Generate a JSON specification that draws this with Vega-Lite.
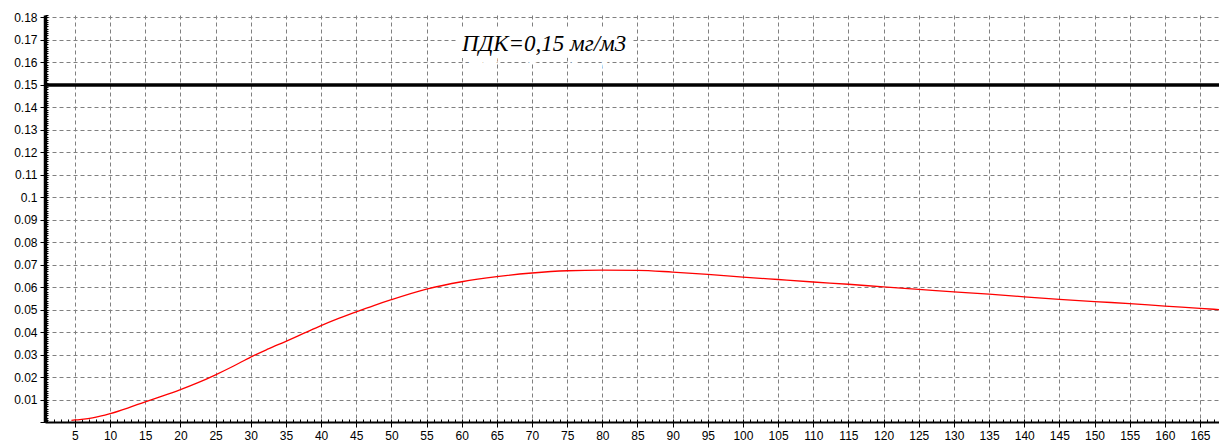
{
  "$schema": "https://vega.github.io/schema/vega-lite/v6.json",
  "width": 1174,
  "height": 407,
  "autosize": {"type": "none"},
  "padding": {"left": 45, "top": 15, "right": 0, "bottom": 24},
  "background": "white",
  "config": {"view": {"stroke": null}},
  "datasets": {
    "curve": [
      {"x": 4.5, "c": 0.0007}, {"x": 5, "c": 0.0009}, {"x": 7.5, "c": 0.0018},
      {"x": 10, "c": 0.0037}, {"x": 12.5, "c": 0.0062}, {"x": 15, "c": 0.009},
      {"x": 17.5, "c": 0.0116}, {"x": 20, "c": 0.0144}, {"x": 22.5, "c": 0.0175},
      {"x": 25, "c": 0.021}, {"x": 27.5, "c": 0.0248}, {"x": 30, "c": 0.0289},
      {"x": 32.5, "c": 0.0325}, {"x": 35, "c": 0.0359}, {"x": 37.5, "c": 0.0394},
      {"x": 40, "c": 0.0429}, {"x": 42.5, "c": 0.0461}, {"x": 45, "c": 0.049},
      {"x": 47.5, "c": 0.0518}, {"x": 50, "c": 0.0544}, {"x": 55, "c": 0.0591},
      {"x": 60, "c": 0.0624}, {"x": 65, "c": 0.0647}, {"x": 70, "c": 0.0663},
      {"x": 75, "c": 0.0673}, {"x": 80, "c": 0.0676}, {"x": 85, "c": 0.0675},
      {"x": 90, "c": 0.0667}, {"x": 95, "c": 0.0657}, {"x": 100, "c": 0.0645},
      {"x": 105, "c": 0.0634}, {"x": 110, "c": 0.0623}, {"x": 115, "c": 0.0613},
      {"x": 120, "c": 0.0601}, {"x": 125, "c": 0.059}, {"x": 130, "c": 0.0579},
      {"x": 135, "c": 0.0569}, {"x": 140, "c": 0.0557}, {"x": 145, "c": 0.0546},
      {"x": 150, "c": 0.0536}, {"x": 155, "c": 0.0527}, {"x": 160, "c": 0.0516},
      {"x": 165, "c": 0.0506}, {"x": 167.7, "c": 0.05}
    ],
    "limit": [{"pdk": 0.15, "label": "ПДК=0,15 мг/м3"}]
  },
  "resolve": {"axis": {"x": "independent", "y": "independent"}},
  "layer": [
    {
      "data": {"name": "curve"},
      "mark": {"type": "line", "strokeOpacity": 0},
      "encoding": {
        "x": {"field": "x", "type": "quantitative",
          "scale": {"domain": [0.74, 167.7], "nice": false, "zero": false},
          "axis": {"orient": "bottom", "title": null, "labels": false, "grid": false, "domain": false,
            "tickCount": 167, "tickSize": -3, "tickColor": "#000", "tickWidth": 1}},
        "y": {"field": "c", "type": "quantitative",
          "scale": {"domain": [0, 0.1811], "nice": false},
          "axis": {"orient": "left", "title": null, "labels": false, "grid": false, "domain": false,
            "tickCount": 181, "tickSize": -3, "tickColor": "#000", "tickWidth": 1}}
      }
    },
    {
      "data": {"name": "curve"},
      "mark": {"type": "line", "color": "#ff0000", "strokeWidth": 1.3, "interpolate": "monotone"},
      "encoding": {
        "x": {"field": "x", "type": "quantitative",
          "axis": {"orient": "bottom", "title": null,
            "values": [5,10,15,20,25,30,35,40,45,50,55,60,65,70,75,80,85,90,95,100,105,110,115,120,125,130,135,140,145,150,155,160,165],
            "grid": true, "gridColor": "#808080", "gridDash": [4, 3], "gridWidth": 1, "gridOpacity": 1,
            "domain": true, "domainColor": "#000", "domainWidth": 2,
            "ticks": true, "tickSize": 5, "tickColor": "#000", "tickWidth": 1,
            "labelFont": "Liberation Sans", "labelFontSize": 12, "labelColor": "#000",
            "labelPadding": 3, "labelFlush": false, "labelOverlap": false}},
        "y": {"field": "c", "type": "quantitative",
          "axis": {"orient": "left", "title": null,
            "values": [0,0.01,0.02,0.03,0.04,0.05,0.06,0.07,0.08,0.09,0.1,0.11,0.12,0.13,0.14,0.15,0.16,0.17,0.18],
            "labelExpr": "datum.value == 0 ? '' : format(datum.value, '.2~f')",
            "grid": true, "gridColor": "#808080", "gridDash": [4, 3], "gridWidth": 1, "gridOpacity": 1,
            "domain": true, "domainColor": "#000", "domainWidth": 3.5,
            "ticks": true, "tickSize": 5, "tickColor": "#000", "tickWidth": 1,
            "labelFont": "Liberation Sans", "labelFontSize": 12, "labelColor": "#000",
            "labelPadding": 3, "labelFlush": false, "labelOverlap": false}}
      }
    },
    {
      "data": {"name": "limit"},
      "mark": {"type": "rule", "color": "#000", "strokeWidth": 3.5},
      "encoding": {"y": {"field": "pdk", "type": "quantitative", "axis": null}}
    },
    {
      "data": {"name": "limit"},
      "mark": {"type": "text", "align": "left", "baseline": "middle", "font": "Liberation Serif",
        "fontStyle": "italic", "fontSize": 23, "fill": "white", "stroke": "white", "strokeWidth": 14},
      "encoding": {
        "x": {"datum": 60.05, "type": "quantitative", "axis": null},
        "y": {"datum": 0.168, "type": "quantitative", "axis": null},
        "text": {"field": "label"}
      }
    },
    {
      "data": {"name": "limit"},
      "mark": {"type": "text", "align": "left", "baseline": "middle", "font": "Liberation Serif",
        "fontStyle": "italic", "fontSize": 23, "color": "#000"},
      "encoding": {
        "x": {"datum": 60.05, "type": "quantitative", "axis": null},
        "y": {"datum": 0.168, "type": "quantitative", "axis": null},
        "text": {"field": "label"}
      }
    }
  ]
}
